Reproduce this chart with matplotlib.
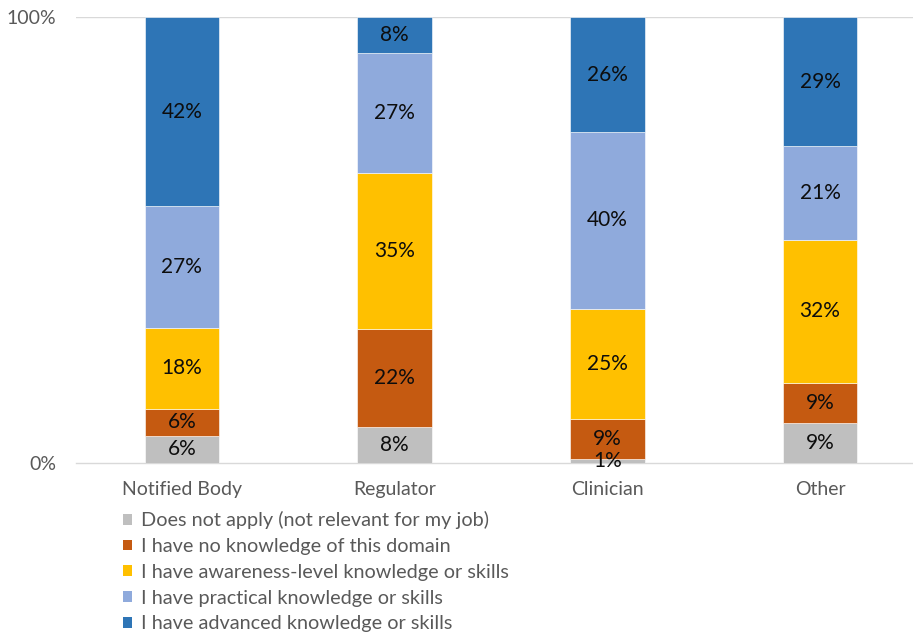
import numpy as np
import matplotlib
matplotlib.use("Agg")
import matplotlib.pyplot as plt
from matplotlib.patches import Patch

plt.rcParams['font.family'] = ['Lato', 'DejaVu Sans']

categories = ["Notified Body", "Regulator", "Clinician", "Other"]
series_names = [
    "Does not apply (not relevant for my job)",
    "I have no knowledge of this domain",
    "I have awareness-level knowledge or skills",
    "I have practical knowledge or skills",
    "I have advanced knowledge or skills",
]
does_not_apply = [6, 8, 1, 9]
no_knowledge = [6, 22, 9, 9]
awareness = [18, 35, 25, 32]
practical = [27, 27, 40, 21]
advanced = [42, 8, 26, 29]
colors = ["#BFBFBF", "#C55A11", "#FFC000", "#8FAADC", "#2E75B6"]

values = np.array([does_not_apply, no_knowledge, awareness, practical, advanced], dtype=float)
# 100% stacked: normalise each column
shares = values / values.sum(axis=0)

fig = plt.figure(figsize=(9.13, 6.36), dpi=100)
ax = fig.add_axes([0.0827, 0.272, 0.932, 0.701])

x = np.arange(len(categories))
bottom = np.zeros(len(categories))
for i in range(len(series_names)):
    ax.bar(x, shares[i], 0.35, bottom=bottom, color=colors[i],
           edgecolor="white", linewidth=0.4, zorder=3)
    for j in range(len(categories)):
        ax.text(x[j], bottom[j] + shares[i][j] / 2, f"{int(values[i][j])}%",
                ha="center", va="center", fontsize=15, color="#0D0D0D", zorder=4)
    bottom += shares[i]

ax.set_xlim(-0.5, 3.5)
ax.set_ylim(0, 1)
ax.set_yticks([0, 1])
ax.set_yticklabels(["0%", "100%"])
ax.set_xticks(x)
ax.set_xticklabels(categories)
ax.tick_params(axis="both", length=0, labelcolor="#595959")
ax.tick_params(axis="y", pad=14, labelsize=14)
ax.tick_params(axis="x", pad=13, labelsize=14)
ax.axhline(1, color="#D9D9D9", linewidth=1, zorder=1)
for s in ["top", "right", "left"]:
    ax.spines[s].set_visible(False)
ax.spines["bottom"].set_color("#D9D9D9")
ax.spines["bottom"].set_linewidth(1)

handles = [Patch(facecolor=c, edgecolor="none") for c in colors]
fig.legend(handles, series_names, loc="upper left", bbox_to_anchor=(0.135, 0.196),
           frameon=False, fontsize=14.3, labelcolor="#595959",
           handlelength=0.45, handleheight=0.45, handletextpad=0.45,
           labelspacing=0.44, borderaxespad=0, borderpad=0)

fig.savefig("out.png", dpi=100)
